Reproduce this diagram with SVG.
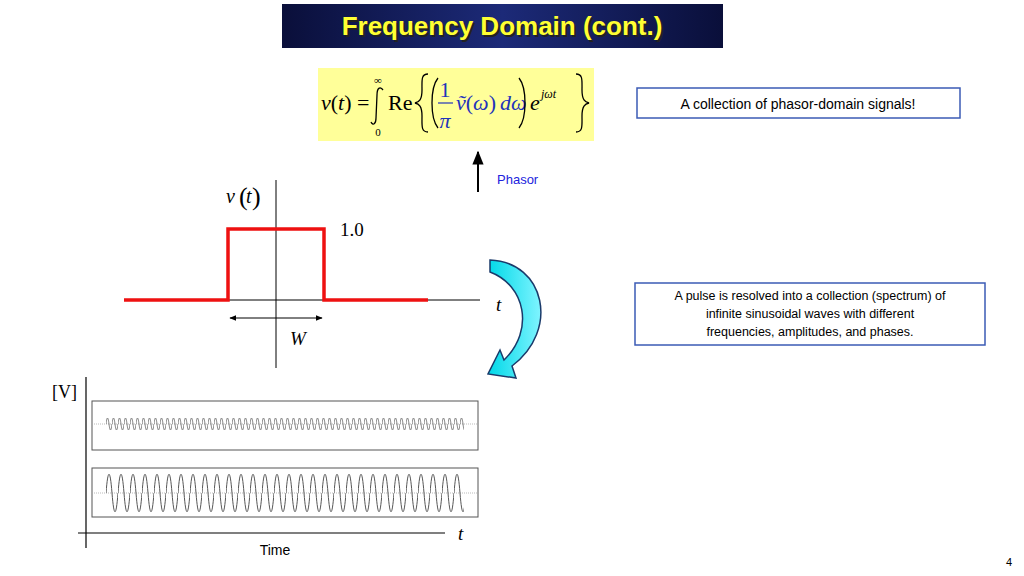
<svg xmlns="http://www.w3.org/2000/svg" width="1024" height="576" viewBox="0 0 1024 576">
<defs>
<linearGradient id="hg" x1="0" x2="1" y1="0" y2="0"><stop offset="0" stop-color="#0a0f3a"/><stop offset="0.5" stop-color="#1c2a78"/><stop offset="1" stop-color="#0a0f3a"/></linearGradient>
<linearGradient id="cg" x1="0" x2="1"><stop offset="0" stop-color="#00d8e8"/><stop offset="1" stop-color="#7ff4ff"/></linearGradient>
<pattern id="w1" width="6" height="12" patternUnits="userSpaceOnUse" x="106" y="418"><path d="M0,6 c1,-8 2,-8 3,0 s2,8 3,0" fill="none" stroke="#555" stroke-width="0.8"/></pattern>
<pattern id="w2" width="12" height="38" patternUnits="userSpaceOnUse" x="106" y="474"><path d="M0,19 c2,-25 4,-25 6,0 s4,25 6,0" fill="none" stroke="#555" stroke-width="1"/></pattern>
<marker id="ah" viewBox="0 0 10 10" refX="9" refY="5" markerWidth="7" markerHeight="7" orient="auto-start-reverse"><path d="M0,1 L10,5 L0,9 Z" fill="#000"/></marker>
</defs>
<style>
.s{font-family:"Liberation Sans",Arial,sans-serif}
.m{font-family:"Liberation Serif","Times New Roman",serif}
.box{fill:#fff;stroke:#3b5bb5;stroke-width:1.5}
.d{fill:none;stroke:#000;stroke-width:1.3}
</style>
<rect width="1024" height="576" fill="#fff"/>
<g id="title"><rect x="282" y="4" width="441" height="44" fill="url(#hg)"/>
<text x="504" y="37" class="s" font-size="26" font-weight="bold" fill="#222" text-anchor="middle">Frequency Domain (cont.)</text>
<text x="502" y="35" class="s" font-size="26" font-weight="bold" fill="#ffff33" text-anchor="middle">Frequency Domain (cont.)</text></g>
<g id="formula"><rect x="318" y="68" width="276" height="73" fill="#ffff99"/>
<text x="321" y="110" class="m" font-size="22"><tspan font-style="italic">v</tspan>(<tspan font-style="italic">t</tspan>) =</text>
<text x="378" y="84" class="m" font-size="11" text-anchor="middle">∞</text>
<path class="d" d="M383,90 C380,86 377,88 377,95 L376,118 C376,124 373,126 371,122" stroke-width="1.5"/>
<text x="378" y="136" class="m" font-size="11" text-anchor="middle">0</text>
<text x="388" y="110" class="m" font-size="22">Re</text>
<path class="d" d="M428,74 C421,74 422,80 422,90 C422,100 419,102 415,103 C419,104 422,106 422,116 C422,126 421,132 428,132"/>
<path class="d" d="M438,78 C430,88 430,118 438,128" stroke-width="1.6"/>
<text x="445" y="97" class="m" font-size="22" fill="#2233bb" text-anchor="middle">1</text>
<line x1="438" y1="103" x2="453" y2="103" stroke="#2233bb" stroke-width="1.2"/>
<text x="445" y="128" class="m" font-size="22" font-style="italic" fill="#2233bb" text-anchor="middle">π</text>
<text x="456" y="110" class="m" font-size="22" fill="#2233bb"><tspan font-style="italic">ṽ</tspan>(<tspan font-style="italic">ω</tspan>)<tspan font-style="italic" dx="4">dω</tspan></text>
<path class="d" d="M519,78 C527,88 527,118 519,128" stroke-width="1.6"/>
<text x="530" y="110" class="m" font-size="22" font-style="italic">e</text>
<text x="541" y="98" class="m" font-size="12" font-style="italic">jωt</text>
<path class="d" d="M576,74 C583,74 582,80 582,90 C582,100 585,102 589,103 C585,104 582,106 582,116 C582,126 583,132 576,132"/></g>
<g id="note1"><rect x="637" y="88" width="323" height="30" class="box"/>
<text x="798" y="109" class="s" font-size="14" text-anchor="middle">A collection of phasor-domain signals!</text></g>
<g id="note2"><rect x="635" y="283" width="350" height="62" class="box"/>
<text x="810" y="300" class="s" font-size="12.5" text-anchor="middle">A pulse is resolved into a collection (spectrum) of</text>
<text x="810" y="318" class="s" font-size="12.5" text-anchor="middle">infinite sinusoidal waves with different</text>
<text x="810" y="336" class="s" font-size="12.5" text-anchor="middle">frequencies, amplitudes, and phases.</text></g>
<g id="phasor"><line x1="478" y1="192" x2="478" y2="152" stroke="#000" stroke-width="2" marker-end="url(#ah)"/>
<text x="497" y="184" class="s" font-size="13" fill="#2222dd">Phasor</text></g>
<g id="pulse">
<line x1="276" y1="180" x2="276" y2="368" stroke="#000" stroke-width="1"/>
<line x1="124" y1="300" x2="480" y2="300" stroke="#000" stroke-width="1"/>
<polyline points="124,300 228,300 228,229 324,229 324,300 428,300" fill="none" stroke="#ee1111" stroke-width="3.5"/>
<text x="226" y="203" class="m" font-size="20" font-style="italic">v</text>
<text x="239" y="205" class="m" font-size="26">(</text><text x="246" y="203" class="m" font-size="20" font-style="italic">t</text><text x="252" y="205" class="m" font-size="26">)</text>
<text x="340" y="236" class="m" font-size="19">1.0</text>
<text x="496" y="311" class="m" font-size="19" font-style="italic">t</text>
<line x1="230" y1="318" x2="322" y2="318" stroke="#000" stroke-width="1" marker-start="url(#ah)" marker-end="url(#ah)"/>
<text x="290" y="345" class="m" font-size="19" font-style="italic">W</text></g>
<g id="curvedArrow"><path d="M490,260 C545,262 560,330 512,366 L516,378 L488,374 L500,350 L504,360 C535,330 525,285 490,272 Z" fill="url(#cg)" stroke="#1a3a6a" stroke-width="1.5"/></g>
<g id="waves">
<line x1="86" y1="377" x2="86" y2="548" stroke="#000" stroke-width="1.2"/>
<line x1="78" y1="533" x2="445" y2="533" stroke="#000" stroke-width="1.2"/>
<text x="52" y="398" class="m" font-size="18">[V]</text>
<text x="458" y="540" class="m" font-size="19" font-style="italic">t</text>
<text x="275" y="555" class="s" font-size="14" text-anchor="middle">Time</text>
<rect x="92" y="401" width="386" height="49" fill="#fff" stroke="#555" stroke-width="1"/>
<line x1="92" y1="424" x2="478" y2="424" stroke="#aaa" stroke-dasharray="1,1" stroke-width="0.8"/>
<rect x="106" y="418" width="358" height="12" fill="url(#w1)"/>
<rect x="92" y="468" width="386" height="49" fill="#fff" stroke="#555" stroke-width="1"/>
<line x1="92" y1="493" x2="478" y2="493" stroke="#aaa" stroke-dasharray="1,1" stroke-width="0.8"/>
<rect x="106" y="474" width="358" height="38" fill="url(#w2)"/></g>
<text x="1012" y="566" class="s" font-size="11" text-anchor="end">4</text>
</svg>
